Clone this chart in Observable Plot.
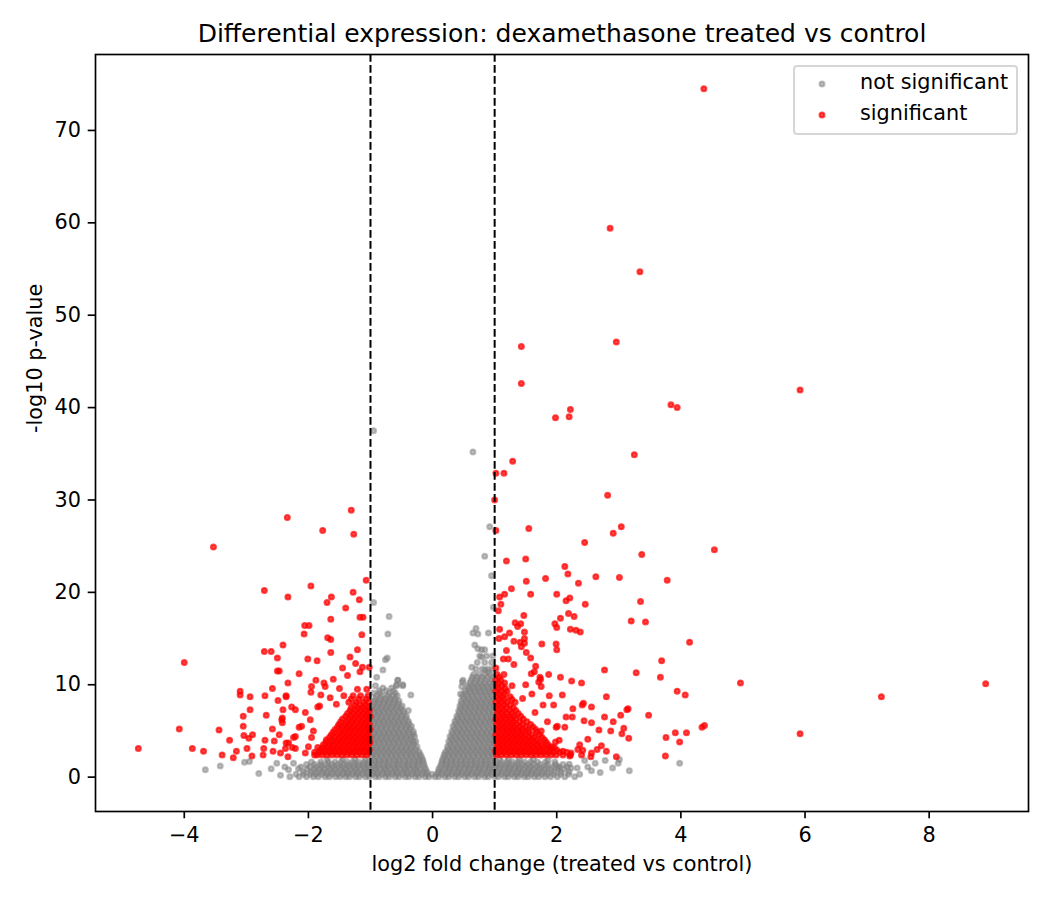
<!DOCTYPE html>
<html>
<head>
<meta charset="utf-8">
<script src="https://cdn.jsdelivr.net/npm/d3@7"></script>
<script src="https://cdn.jsdelivr.net/npm/@observablehq/plot@0.6"></script>
<style>
  html, body { margin: 0; padding: 0; background: white; }
  #wrap { position: relative; width: 1050px; height: 900px; font-family: "DejaVu Sans", sans-serif; }
  #legend { position: absolute; left: 793px; top: 65px; width: 221px; height: 66px;
    border: 2px solid rgba(204,204,204,0.8); border-radius: 4px; background: rgba(255,255,255,0.8); }
  #legend svg { position: absolute; left: 0; top: 0; }
  #legend .lab { position: absolute; left: 65px; font-size: 20.8px; line-height: 1; white-space: nowrap; color: black; }
</style>
</head>
<body>
<div id="wrap"></div>
<script>
// ---- Text ----
const titleText = "Differential expression: dexamethasone treated vs control";
const xLabel = "log2 fold change (treated vs control)";
const yLabel = "-log10 p-value";
const seriesNames = ["not significant", "significant"];
const xTicks = [-4, -2, 0, 2, 4, 6, 8];
const yTicks = [0, 10, 20, 30, 40, 50, 60, 70];
const thresholds = [-1, 1];

// ---- Not significant: dense cloud read row by row [y, x values] ----
const grayRows = [
  [0.05, [-2.3,-2.15,-2.03,-1.92,-1.84,-1.73,-1.66,-1.56,-1.49,-1.4,-1.34,-1.24,-1.18,-1.08,-1.02,-0.92,-0.86,-0.76,-0.7,-0.6,-0.54,-0.44,-0.38,-0.28,-0.22,-0.12,-0.06,0.04,0.1,0.2,0.26,0.36,0.42,0.52,0.58,0.68,0.74,0.84,0.9,1.0,1.06,1.16,1.22,1.32,1.38,1.48,1.54,1.64,1.71,1.81,1.9,2.01,2.13,2.29]],
  [0.3, [-2.2,-2.08,-1.97,-1.88,-1.79,-1.7,-1.62,-1.53,-1.45,-1.37,-1.29,-1.21,-1.13,-1.05,-0.97,-0.89,-0.81,-0.73,-0.65,-0.57,-0.49,-0.41,-0.33,-0.25,-0.17,-0.09,-0.01,0.07,0.15,0.23,0.31,0.39,0.47,0.55,0.63,0.71,0.79,0.87,0.95,1.03,1.11,1.19,1.27,1.35,1.43,1.51,1.59,1.67,1.76,1.85,1.95,2.06,2.19]],
  [0.55, [-2.08,-1.96,-1.87,-1.78,-1.7,-1.61,-1.53,-1.44,-1.37,-1.28,-1.21,-1.12,-1.05,-0.96,-0.89,-0.8,-0.73,-0.64,-0.57,-0.48,-0.41,-0.32,-0.25,-0.16,-0.09,0.09,0.16,0.25,0.32,0.41,0.48,0.57,0.64,0.73,0.8,0.89,0.96,1.05,1.12,1.21,1.28,1.37,1.44,1.53,1.6,1.69,1.77,1.86,1.96,2.07,2.2]],
  [0.85, [-2.02,-1.91,-1.82,-1.74,-1.65,-1.57,-1.48,-1.4,-1.32,-1.24,-1.16,-1.08,-1.0,-0.92,-0.84,-0.76,-0.68,-0.6,-0.52,-0.44,-0.36,-0.28,-0.2,-0.11,0.1,0.19,0.27,0.35,0.43,0.51,0.59,0.67,0.75,0.83,0.91,0.99,1.07,1.15,1.23,1.31,1.39,1.47,1.55,1.63,1.72,1.81,1.91,2.02,2.12]],
  [1.1, [-2.12,-1.98,-1.88,-1.79,-1.69,-1.61,-1.52,-1.44,-1.35,-1.27,-1.19,-1.1,-1.03,-0.94,-0.87,-0.78,-0.71,-0.62,-0.55,-0.46,-0.39,-0.3,-0.23,-0.13,0.12,0.21,0.28,0.37,0.44,0.53,0.6,0.69,0.76,0.85,0.92,1.01,1.08,1.17,1.24,1.33,1.4,1.49,1.57,1.66,1.74,1.83,1.93,2.04,2.17]],
  [1.38, [-2.03,-1.9,-1.8,-1.71,-1.62,-1.53,-1.44,-1.36,-1.27,-1.19,-1.11,-1.03,-0.95,-0.87,-0.79,-0.71,-0.63,-0.55,-0.47,-0.39,-0.31,-0.23,-0.14,0.14,0.22,0.3,0.38,0.46,0.54,0.62,0.7,0.78,0.86,0.94,1.02,1.1,1.19,1.28,1.37,1.46,1.55,1.64,1.74,1.85,1.98,2.1]],
  [1.65, [-1.95,-1.8,-1.68,-1.57,-1.47,-1.37,-1.28,-1.19,-1.1,-1.02,-0.93,-0.86,-0.77,-0.7,-0.61,-0.54,-0.45,-0.38,-0.29,-0.22,-0.15,0.15,0.22,0.3,0.37,0.46,0.53,0.62,0.69,0.78,0.85,0.94,1.02,1.11,1.2,1.29,1.38,1.48,1.58,1.69,1.82,1.97]],
  [1.92, [-1.7,-1.45,-1.25,-1.08,-0.94,-0.86,-0.78,-0.7,-0.62,-0.54,-0.46,-0.38,-0.3,-0.22,-0.16,0.16,0.22,0.3,0.38,0.46,0.54,0.62,0.7,0.78,0.86,0.94,1.08,1.22,1.4,1.62]],
  [2.2, [-0.98,-0.9,-0.82,-0.74,-0.66,-0.58,-0.5,-0.42,-0.34,-0.26,-0.18,0.18,0.26,0.34,0.42,0.5,0.58,0.66,0.74,0.82,0.9,0.98]],
  [2.48, [-0.99,-0.91,-0.83,-0.75,-0.67,-0.59,-0.51,-0.43,-0.35,-0.27,-0.2,0.19,0.25,0.33,0.41,0.49,0.57,0.65,0.73,0.81,0.89,0.97]],
  [2.75, [-0.95,-0.87,-0.79,-0.71,-0.63,-0.55,-0.47,-0.39,-0.31,-0.22,0.21,0.29,0.37,0.45,0.53,0.61,0.69,0.77,0.85,0.93,0.99]],
  [3.02, [-0.99,-0.91,-0.83,-0.75,-0.67,-0.59,-0.51,-0.43,-0.35,-0.27,0.25,0.33,0.41,0.49,0.57,0.65,0.73,0.81,0.89,0.97]],
  [3.3, [-0.98,-0.9,-0.82,-0.74,-0.66,-0.58,-0.5,-0.42,-0.34,-0.25,0.24,0.32,0.4,0.48,0.56,0.64,0.72,0.8,0.88,0.96]],
  [3.58, [-0.94,-0.86,-0.78,-0.7,-0.62,-0.54,-0.46,-0.38,-0.3,0.28,0.36,0.44,0.52,0.6,0.68,0.76,0.84,0.92,0.99]],
  [3.85, [-0.95,-0.87,-0.79,-0.71,-0.63,-0.55,-0.47,-0.39,-0.31,-0.27,0.26,0.34,0.42,0.5,0.58,0.66,0.74,0.82,0.9,0.98]],
  [4.12, [-0.99,-0.91,-0.83,-0.75,-0.67,-0.59,-0.51,-0.43,-0.35,0.3,0.38,0.46,0.54,0.62,0.7,0.78,0.86,0.94]],
  [4.4, [-0.98,-0.9,-0.82,-0.74,-0.66,-0.58,-0.5,-0.42,-0.34,-0.29,0.28,0.36,0.44,0.52,0.6,0.68,0.76,0.84,0.92,0.99]],
  [4.68, [-0.94,-0.86,-0.78,-0.7,-0.62,-0.54,-0.46,-0.38,-0.31,0.32,0.4,0.48,0.56,0.64,0.72,0.8,0.88,0.96]],
  [4.95, [-0.95,-0.87,-0.79,-0.71,-0.63,-0.55,-0.47,-0.39,-0.31,0.31,0.39,0.47,0.55,0.63,0.71,0.79,0.87,0.95]],
  [5.22, [-0.99,-0.91,-0.83,-0.75,-0.67,-0.59,-0.51,-0.43,-0.36,0.35,0.43,0.51,0.59,0.67,0.75,0.83,0.91,0.99]],
  [5.5, [-0.98,-0.9,-0.82,-0.74,-0.66,-0.58,-0.5,-0.42,-0.34,0.33,0.41,0.49,0.57,0.65,0.73,0.81,0.89,0.97]],
  [5.78, [-0.94,-0.86,-0.78,-0.7,-0.62,-0.54,-0.46,-0.38,0.37,0.45,0.53,0.61,0.69,0.77,0.85,0.93]],
  [6.05, [-0.95,-0.87,-0.79,-0.71,-0.63,-0.55,-0.47,-0.39,0.36,0.44,0.52,0.6,0.68,0.76,0.84,0.92,0.99]],
  [6.32, [-0.99,-0.91,-0.83,-0.75,-0.67,-0.59,-0.51,-0.43,0.4,0.48,0.56,0.64,0.72,0.8,0.88,0.96]],
  [6.6, [-0.98,-0.9,-0.82,-0.74,-0.66,-0.58,-0.5,-0.42,0.39,0.47,0.55,0.63,0.71,0.79,0.87,0.95]],
  [6.88, [-0.94,-0.86,-0.78,-0.7,-0.62,-0.54,-0.46,0.43,0.51,0.59,0.67,0.75,0.83,0.91,0.98]],
  [7.15, [-0.95,-0.87,-0.79,-0.71,-0.63,-0.55,-0.47,0.42,0.5,0.58,0.66,0.74,0.82,0.9,0.98]],
  [7.42, [-0.99,-0.91,-0.83,-0.75,-0.67,-0.59,-0.51,0.45,0.53,0.61,0.69,0.77,0.85,0.93]],
  [7.7, [-0.97,-0.89,-0.81,-0.73,-0.65,-0.57,-0.49,0.44,0.52,0.6,0.68,0.76,0.84,0.92,0.99]],
  [7.98, [-0.95,-0.87,-0.79,-0.71,-0.63,-0.55,0.47,0.55,0.63,0.71,0.79,0.87,0.95]],
  [8.25, [-0.94,-0.86,-0.78,-0.7,-0.62,-0.54,0.46,0.54,0.62,0.7,0.78,0.86,0.94]],
  [8.52, [-0.92,-0.84,-0.76,-0.68,-0.6,0.5,0.58,0.66,0.74,0.82,0.9,0.98]],
  [8.8, [-0.9,-0.81,-0.72,-0.64,-0.57,0.48,0.56,0.64,0.72,0.8,0.88,0.96]],
  [9.1, [-0.95,-0.85,-0.7,-0.6,0.53,0.61,0.69,0.77,0.85,0.93]],
  [9.35, [-0.86,-0.75,-0.63,0.52,0.6,0.68,0.76,0.84,0.92,0.98]],
  [9.65, [-0.8,-0.66,0.58,0.66,0.74,0.82,0.9,0.98]],
  [9.9, [-0.92,-0.58,-0.48,0.56,0.64,0.72,0.8,0.88,0.96]],
  [10.2, [0.6,0.68,0.76,0.84,0.92,0.99]],
  [10.5, [-0.56,0.49,0.62,0.7,0.78,0.86,0.95]],
  [10.8, [0.64,0.72,0.8,0.88,0.97]],
  [11.1, [0.66,0.75,0.84,0.93]],
  [11.7, [0.7,0.8,0.89,0.97]],
  [12.4, [0.72,0.84,0.95]],
  [13.1, [0.76,0.87,0.97]]
];
// ---- Not significant: scattered points [x, y] ----
const grayScatter = [
  [-0.95,37.5],[0.65,35.2],[0.92,27.1],[0.84,23.9],[0.95,21.8],[0.98,18.4],[-0.95,18.9],[-0.7,17.4],
  [-0.72,15.5],[-0.73,12.9],[-0.76,12.7],[-0.8,11.6],[-0.9,10.8],[-0.56,10.5],[-0.48,10.0],[-0.58,10.0],
  [-0.35,8.9],[-0.39,7.2],[0.7,16.1],[0.73,15.5],[0.65,15.6],[0.9,15.6],[0.68,14.3],[0.73,13.9],[0.79,13.8],
  [0.84,13.8],[0.79,13.0],[0.63,11.9],[0.84,11.6],[0.9,11.4],[0.47,9.8],[0.45,9.0],[0.48,10.3],
  [-3.66,0.8],[-3.42,1.2],[-3.03,1.6],[-2.95,1.7],[-2.8,0.4],[-2.51,1.5],[-2.45,0.2],[-2.38,1.1],[-2.32,0.8],
  [-2.24,1.5],[-2.16,0.9],[-2.6,0.9],
  [3.98,1.5],[3.17,0.7],[2.5,1.1],[2.56,0.7],[2.78,1.8],[3.01,1.9],[2.33,1.0],[2.45,1.8],[2.2,1.4],[2.37,0.3],
  [2.62,1.5],[1.86,1.8],[2.02,1.1],[2.23,1.0],[2.99,1.5],[2.7,0.5],[2.9,1.0]
];

// ---- Significant: dense clusters read row by row [y, x values] ----
const redRowsDown = [
  [2.4, [-1.86,-1.78,-1.7,-1.62,-1.54,-1.46,-1.38,-1.3,-1.22,-1.14,-1.06]],
  [2.68, [-1.9,-1.82,-1.74,-1.66,-1.58,-1.5,-1.42,-1.34,-1.26,-1.18,-1.1,-1.03]],
  [2.95, [-1.81,-1.73,-1.65,-1.57,-1.49,-1.41,-1.33,-1.25,-1.17,-1.09,-1.02]],
  [3.22, [-1.85,-1.77,-1.69,-1.61,-1.53,-1.45,-1.37,-1.29,-1.21,-1.13,-1.06]],
  [3.5, [-1.76,-1.67,-1.59,-1.51,-1.43,-1.35,-1.27,-1.19,-1.11,-1.03]],
  [3.78, [-1.72,-1.63,-1.55,-1.47,-1.39,-1.31,-1.23,-1.15,-1.07,-1.01]],
  [4.05, [-1.71,-1.61,-1.52,-1.44,-1.36,-1.28,-1.2,-1.12,-1.04]],
  [4.32, [-1.66,-1.57,-1.49,-1.41,-1.33,-1.25,-1.17,-1.09,-1.02]],
  [4.6, [-1.63,-1.53,-1.45,-1.37,-1.29,-1.21,-1.13,-1.05]],
  [4.88, [-1.6,-1.5,-1.42,-1.34,-1.26,-1.18,-1.1,-1.03]],
  [5.15, [-1.57,-1.47,-1.39,-1.31,-1.23,-1.15,-1.07,-1.01]],
  [5.42, [-1.53,-1.44,-1.36,-1.28,-1.2,-1.12,-1.04]],
  [5.7, [-1.51,-1.41,-1.33,-1.25,-1.17,-1.09,-1.02]],
  [6.0, [-1.48,-1.38,-1.3,-1.22,-1.14,-1.06]],
  [6.3, [-1.45,-1.35,-1.27,-1.19,-1.11,-1.03]],
  [6.6, [-1.4,-1.31,-1.23,-1.15,-1.07,-1.01]],
  [6.9, [-1.37,-1.28,-1.2,-1.12,-1.05]],
  [7.2, [-1.33,-1.24,-1.16,-1.08,-1.02]],
  [7.5, [-1.31,-1.21,-1.13,-1.04]],
  [7.8, [-1.26,-1.17,-1.08]],
  [8.1, [-1.35,-1.23,-1.11,-1.03]],
  [8.45, [-1.31,-1.19,-1.07]],
  [8.8, [-1.43,-1.28,-1.16,-1.04]],
  [9.5, [-1.21,-1.06]]
];
const redRowsUp = [
  [2.4, [1.03,1.11,1.19,1.27,1.35,1.43,1.51,1.59,1.67,1.75,1.83,1.91,1.99,2.1,2.22]],
  [2.68, [1.02,1.07,1.15,1.23,1.31,1.39,1.47,1.55,1.63,1.71,1.79,1.87,1.95,2.05,2.16]],
  [2.95, [1.02,1.1,1.18,1.26,1.34,1.42,1.5,1.58,1.66,1.74,1.82,1.9,2.0]],
  [3.22, [1.06,1.14,1.22,1.3,1.38,1.46,1.54,1.62,1.7,1.78,1.87,1.96]],
  [3.5, [1.04,1.12,1.2,1.28,1.36,1.44,1.52,1.6,1.68,1.76,1.86]],
  [3.78, [1.07,1.15,1.23,1.31,1.39,1.47,1.55,1.63,1.72,1.83]],
  [4.05, [1.03,1.11,1.19,1.27,1.35,1.43,1.51,1.59,1.68,1.8]],
  [4.32, [1.06,1.14,1.22,1.3,1.38,1.46,1.55,1.64,1.76]],
  [4.6, [1.02,1.1,1.18,1.26,1.34,1.42,1.5,1.6,1.72]],
  [4.88, [1.06,1.14,1.22,1.3,1.38,1.46,1.55,1.68]],
  [5.15, [1.04,1.12,1.2,1.28,1.36,1.44,1.54,1.66]],
  [5.42, [1.07,1.15,1.23,1.31,1.4,1.5,1.62]],
  [5.7, [1.03,1.11,1.19,1.27,1.35,1.45,1.58]],
  [6.0, [1.06,1.14,1.22,1.3,1.4,1.52]],
  [6.3, [1.02,1.1,1.18,1.26,1.34,1.46]],
  [6.6, [1.07,1.15,1.23,1.31,1.42]],
  [6.9, [1.04,1.12,1.2,1.28,1.38]],
  [7.2, [1.06,1.14,1.24,1.34]],
  [7.5, [1.03,1.11,1.19,1.3]],
  [7.8, [1.06,1.15,1.25]],
  [8.1, [1.02,1.1,1.2,1.33]],
  [8.4, [1.07,1.16,1.28]],
  [8.7, [1.04,1.13,1.25]],
  [9.0, [1.07,1.16]],
  [9.3, [1.02,1.1,1.2]],
  [9.6, [1.06,1.17]],
  [9.9, [1.03,1.12,1.28]],
  [10.2, [1.06,1.16]],
  [10.5, [1.02,1.1]],
  [10.8, [1.07]],
  [11.1, [1.04,1.15]],
  [11.8, [1.02]]
];
// ---- Significant: scattered points [x, y] ----
const redDown = [
  [-2.34,28.1],[-1.31,28.9],[-1.27,26.3],[-1.77,26.7],[-3.53,24.9],[-1.07,21.3],[-2.71,20.2],[-2.33,19.5],
  [-1.96,20.7],[-1.63,19.5],[-1.7,18.9],[-1.28,20.0],[-1.18,19.2],[-1.4,18.3],[-1.64,17.1],[-1.17,17.3],
  [-1.12,17.3],[-2.06,16.4],[-1.99,16.4],[-2.07,15.5],[-1.69,15.1],[-1.64,14.9],[-1.14,15.4],[-1.64,13.5],
  [-1.21,13.8],[-2.41,14.3],[-2.71,13.6],[-2.6,13.6],[-4.0,12.4],[-2.5,12.9],[-2.01,12.8],[-1.86,12.6],
  [-1.33,13.0],[-1.24,12.3],[-1.13,11.9],[-1.02,11.9],[-1.17,11.4],[-1.37,11.0],[-2.5,11.5],[-2.47,11.5],
  [-2.15,11.2],[-2.33,10.2],[-1.88,10.5],[-1.95,9.8],[-1.96,9.2],[-1.8,8.9],[-1.75,10.2],[-1.73,9.8],
  [-1.65,8.6],[-1.85,7.6],[-1.82,7.7],[-2.36,8.8],[-2.27,7.6],[-2.21,7.3],[-2.43,6.2],[-1.97,6.2],
  [-2.11,5.5],[-2.21,4.4],[-2.32,3.7],[-3.1,9.3],[-3.1,8.9],[-2.94,8.7],[-2.7,8.8],[-2.58,9.6],[-2.49,8.3],
  [-2.36,8.7],[-2.94,7.3],[-3.05,6.6],[-3.05,5.5],[-2.68,6.7],[-2.41,7.3],[-2.42,6.4],[-2.42,5.9],
  [-4.08,5.2],[-3.44,5.1],[-3.27,4.0],[-3.04,4.5],[-2.9,4.6],[-2.96,4.2],[-2.7,4.0],[-2.55,3.9],[-2.47,4.6],
  [-2.58,5.2],[-2.36,3.7],[-2.24,4.3],[-2.15,5.4],[-4.74,3.1],[-3.87,3.1],[-3.69,2.8],[-3.39,2.4],
  [-3.16,2.8],[-3.21,2.1],[-2.99,3.1],[-2.91,2.3],[-2.72,3.1],[-2.73,2.4],[-2.57,2.8],[-2.45,2.6],
  [-2.33,2.2],[-2.37,3.1],[-2.26,3.2],[-2.21,3.1],[-2.05,2.6],[-2.0,3.3],[-1.95,4.3],[-1.92,5.0],
  [-2.05,7.0],[-1.6,10.6],[-1.5,9.6],[-1.55,7.9],[-1.45,11.8],[-1.9,2.4]
];
const redUp = [
  [4.37,74.5],[2.86,59.4],[3.34,54.7],[2.96,47.1],[1.43,46.6],[1.43,42.6],[5.92,41.9],[3.84,40.3],
  [3.94,40.0],[2.22,39.8],[2.2,39.0],[1.98,38.9],[3.25,34.9],[1.29,34.2],[1.02,32.9],[1.15,32.9],
  [1.0,30.0],[2.82,30.5],[1.02,26.7],[1.55,26.9],[2.91,26.4],[3.04,27.1],[2.45,25.4],[4.54,24.6],
  [3.37,24.1],[1.19,23.4],[1.5,23.6],[2.13,22.8],[2.18,22.0],[2.63,21.7],[3.01,21.6],[3.78,21.3],
  [1.82,21.5],[1.51,21.2],[2.35,21.0],[1.27,20.4],[1.58,19.8],[2.0,19.8],[2.21,19.4],[2.15,19.1],
  [2.46,18.7],[3.35,19.0],[1.08,19.5],[1.16,19.8],[1.1,18.7],[1.06,18.0],[1.47,17.5],[2.06,17.2],
  [2.19,17.7],[2.28,17.4],[3.2,16.9],[3.43,16.8],[1.97,16.6],[2.0,16.2],[2.22,16.0],[2.31,15.9],
  [2.38,15.7],[1.33,16.7],[1.42,16.6],[1.37,16.3],[1.08,16.0],[1.48,15.7],[1.24,15.6],[1.16,15.2],
  [1.07,15.0],[1.48,15.0],[1.48,14.5],[1.31,14.7],[1.41,14.6],[1.76,14.4],[1.99,14.4],[2.0,13.8],
  [4.14,14.6],[1.19,13.7],[1.43,14.1],[1.51,13.5],[1.58,12.9],[1.14,12.8],[1.22,12.8],[1.31,12.2],
  [3.69,12.6],[1.66,12.0],[1.64,11.4],[1.59,11.2],[2.77,11.6],[3.28,11.3],[3.67,10.8],[1.87,11.1],
  [1.74,10.6],[1.71,10.3],[2.06,10.8],[2.24,10.4],[2.4,10.2],[4.96,10.2],[3.94,9.3],[4.07,8.9],
  [2.8,8.7],[1.88,8.8],[2.09,8.9],[1.78,7.8],[1.95,7.8],[2.41,7.8],[2.43,8.0],[2.56,7.6],[3.48,6.7],
  [3.13,7.3],[3.15,7.4],[3.03,6.7],[2.15,6.5],[2.25,6.5],[2.26,7.4],[2.77,6.5],[2.91,6.0],[3.08,5.3],
  [3.05,4.7],[3.16,4.2],[2.44,6.1],[2.56,5.9],[2.68,5.1],[2.87,5.0],[4.34,5.4],[4.38,5.6],[3.76,4.3],
  [3.91,4.8],[3.98,3.8],[4.09,4.8],[3.75,2.3],[2.96,2.2],[2.72,3.4],[2.8,2.8],[2.5,4.1],[2.37,3.5],
  [2.42,2.9],[2.56,2.6],[1.99,5.4],[2.01,5.5],[2.13,5.4],[2.04,4.0],[1.98,3.8],[1.92,3.3],[2.1,2.8],
  [2.23,2.6],[2.21,2.3],[2.34,3.0],[2.4,2.4],[5.92,4.7],[7.23,8.7],[8.91,10.1],[1.73,10.8],[1.75,9.8],
  [1.6,9.0],[1.45,8.5],[1.5,10.0],[1.85,6.0],[1.75,5.0],[1.65,7.0],[2.55,2.2],[2.65,3.0]
];

// ---- Build tables ----
const fromRows = rows => rows.flatMap(([y, xs]) => xs.map(x => ({x, y})));
const fromPairs = pairs => pairs.map(([x, y]) => ({x, y}));
const notSig = [...fromRows(grayRows), ...fromPairs(grayScatter)];
const sig = [...fromRows(redRowsDown), ...fromRows(redRowsUp), ...fromPairs(redDown), ...fromPairs(redUp)];

const GRAY = "#808080", RED = "#ff0000";
const dotStyle = (c, a) => ({x: "x", y: "y", r: 2.4, fill: c, fillOpacity: a, stroke: c, strokeOpacity: a, strokeWidth: 2.2});

const chart = Plot.plot({
  width: 1050,
  height: 900,
  marginTop: 54,
  marginBottom: 89,
  marginLeft: 95,
  marginRight: 22,
  style: {fontFamily: "DejaVu Sans, sans-serif", fontSize: "20.8px", background: "white", color: "black", overflow: "visible"},
  x: {domain: [-5.43, 9.60], label: null},
  y: {domain: [-3.72, 78.22], label: null},
  marks: [
    Plot.dot(notSig, dotStyle(GRAY, 0.5)),
    Plot.dot(sig, dotStyle(RED, 0.7)),
    Plot.ruleX(thresholds, {stroke: "black", strokeWidth: 2, strokeDasharray: "7.7,3.3"}),
    Plot.frame({stroke: "black", strokeWidth: 1.67}),
    Plot.axisX({ticks: xTicks, tickSize: 7.3, tickPadding: 8.5, strokeWidth: 1.67, label: null, fontSize: 20.8}),
    Plot.axisY({ticks: yTicks, tickSize: 7.3, tickPadding: 7.3, strokeWidth: 1.67, label: null, fontSize: 20.8}),
    Plot.text([titleText], {frameAnchor: "top", lineAnchor: "middle", dy: -21, fontSize: 25, fill: "black"}),
    Plot.text([xLabel], {frameAnchor: "bottom", lineAnchor: "middle", dy: 53, fontSize: 20.8, fill: "black"}),
    Plot.text([yLabel], {frameAnchor: "left", lineAnchor: "middle", dx: -60, rotate: -90, fontSize: 20.8, fill: "black"})
  ]
});

const wrap = document.getElementById("wrap");
wrap.appendChild(chart);

// ---- Legend (boxed, upper right inside the axes) ----
const legend = document.createElement("div");
legend.id = "legend";
const colors = [[GRAY, 0.5], [RED, 0.7]];
const rowTops = [17, 48];
let svgParts = "";
seriesNames.forEach((name, i) => {
  const [c, a] = colors[i];
  svgParts += `<circle cx="27" cy="${rowTops[i]}" r="2.4" fill="${c}" fill-opacity="${a}" stroke="${c}" stroke-opacity="${a}" stroke-width="2.2"></circle>`;
  const lab = document.createElement("div");
  lab.className = "lab";
  lab.style.top = (rowTops[i] - 12) + "px";
  lab.textContent = name;
  legend.appendChild(lab);
});
legend.insertAdjacentHTML("afterbegin", `<svg width="60" height="66">${svgParts}</svg>`);
wrap.appendChild(legend);
</script>
</body>
</html>
